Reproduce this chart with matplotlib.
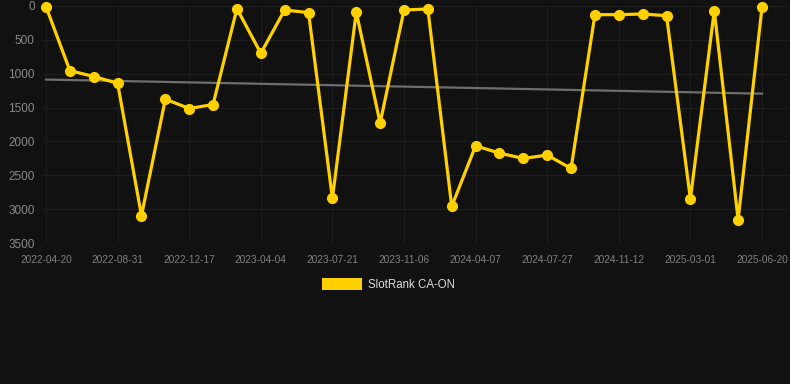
import numpy as np
import matplotlib
matplotlib.use("Agg")
import matplotlib.pyplot as plt
from matplotlib.patches import Rectangle

# Data
rank_values = [10, 954, 1042, 1140, 3097, 1376, 1514, 1455, 39, 698, 59, 98, 2841, 88, 1730,
               59, 44, 2959, 2065, 2173, 2251, 2202, 2399, 128, 128, 118, 143, 2851, 69, 3156, 20]
tick_labels = ["2022-04-20", "2022-08-31", "2022-12-17", "2023-04-04", "2023-07-21",
               "2023-11-06", "2024-04-07", "2024-07-27", "2024-11-12", "2025-03-01", "2025-06-20"]
y_ticks = [0, 500, 1000, 1500, 2000, 2500, 3000, 3500]
series_name = "SlotRank CA-ON"

plt.rcParams["font.family"] = ["Liberation Sans", "DejaVu Sans"]

BG = "#111111"
YELLOW = "#FFD100"
W, H = 790, 384
fig = plt.figure(figsize=(W / 100, H / 100), dpi=100, facecolor=BG)

ax_l, ax_r, ax_t, ax_b = 43, 788, 6, 243
ax = fig.add_axes([ax_l / W, 1 - ax_b / H, (ax_r - ax_l) / W, (ax_b - ax_t) / H])
ax.set_facecolor(BG)

x = np.arange(len(rank_values))
n = len(rank_values)
pxper = (762 - 46) / (n - 1)
ax.set_xlim(-(46 - ax_l) / pxper, (n - 1) + (ax_r - 762) / pxper)
ax.set_ylim(3500, 0)

# trend line
coef = np.polyfit(x, rank_values, 1)
ax.plot([x[0], x[-1]], np.polyval(coef, [x[0], x[-1]]), color="#6e6e6e", lw=1.6, zorder=2)

ax.plot(x, rank_values, color=YELLOW, lw=2.3, marker="o", markersize=7,
        solid_joinstyle="miter", zorder=3, clip_on=False)

tick_pos = x[::3]
ax.set_xticks(tick_pos)
ax.set_xticklabels(tick_labels)
ax.set_yticks(y_ticks)
ax.set_yticklabels([str(v) for v in y_ticks])
ax.tick_params(axis="x", colors="#808080", labelsize=7.3, length=0, pad=8.5)
ax.tick_params(axis="y", colors="#8a8a8a", labelsize=8.5, length=0, pad=6)
ax.grid(True, color="#1e1e1e", lw=0.8)
for s in ax.spines.values():
    s.set_visible(False)

# legend
fig.patches.append(Rectangle((322 / W, 1 - 290 / H), 40 / W, 12 / H, transform=fig.transFigure,
                             facecolor=YELLOW, edgecolor="none"))
fig.text(368 / W, 1 - 284.5 / H, series_name, color="#dddddd", fontsize=8.3, va="center", ha="left")

fig.savefig("out.png", dpi=100, facecolor=BG)
